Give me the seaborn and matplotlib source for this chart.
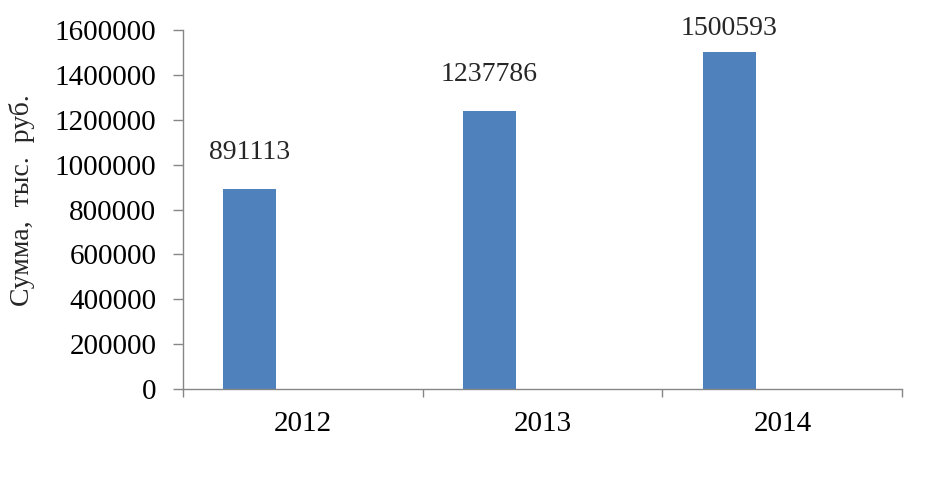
import pandas as pd
import seaborn as sns
import matplotlib
matplotlib.use("Agg")
import matplotlib.pyplot as plt

# chart data
years = ["2012", "2013", "2014"]
series = ["Ряд1", "Ряд2", "Ряд3"]
sums = [891113, 1237786, 1500593]
empty = [0, 0, 0]
y_ticks = [0, 200000, 400000, 600000, 800000, 1000000, 1200000, 1400000, 1600000]
y_label = "Сумма,  тыс.  руб."

df = pd.DataFrame({
    "year": years * 3,
    "series": [series[0]] * 3 + [series[1]] * 3 + [series[2]] * 3,
    "value": sums + empty + empty,
})

sns.set_style("white")
plt.rcParams["font.family"] = ["Liberation Serif", "DejaVu Serif"]

grey = "#868686"
fig = plt.figure(figsize=(9.29, 4.96), dpi=100)
ax = fig.add_axes([0.1967, 0.2157, 0.7746, 0.7238])

sns.barplot(data=df, x="year", y="value", hue="series", hue_order=series,
            palette=["#4F81BD", "#C0504D", "#9BBB59"], saturation=1, width=0.664,
            linewidth=0, legend=False, ax=ax)

ymax = y_ticks[-1]
ax.set_ylim(0, ymax)
ax.set_xlim(-0.5, len(years) - 0.5)
ax.set_yticks(y_ticks)
ax.set_yticklabels([str(t) for t in y_ticks])

# category boundaries carry the tick marks, labels sit in the middle
ax.set_xticks([i - 0.5 for i in range(len(years) + 1)], minor=True)
ax.tick_params(axis="x", which="both", bottom=True)
ax.tick_params(axis="x", which="major", length=0, pad=16, labelsize=21, colors="black")
ax.tick_params(axis="x", which="minor", length=6, width=1, color=grey, direction="out")
ax.tick_params(axis="y", left=True, length=7, width=1, color=grey, direction="out", pad=12,
               labelsize=21, labelcolor="black")

for side in ["top", "right"]:
    ax.spines[side].set_visible(False)
for side in ["left", "bottom"]:
    ax.spines[side].set_color(grey)
    ax.spines[side].set_linewidth(1)

ax.set_xlabel("")
ax.set_ylabel(y_label, fontsize=20)
ax.yaxis.label.set_va("center")
ax.yaxis.set_label_coords(-0.223, 0.526)

# value labels above the first series
for bar, v in zip(ax.containers[0], sums):
    cx = bar.get_x() + bar.get_width() / 2
    ty = min(v + 135000, ymax - 22000)
    ax.text(cx, ty, str(v), ha="center", va="baseline", fontsize=20, clip_on=False)

fig.savefig("out.png", dpi=100)
